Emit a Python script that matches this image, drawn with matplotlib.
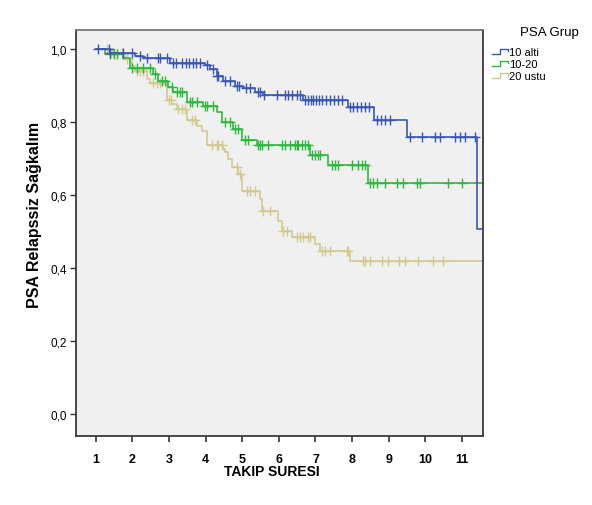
import matplotlib
matplotlib.use("Agg")
import matplotlib.pyplot as plt
import numpy as np
from matplotlib.lines import Line2D
from matplotlib.legend_handler import HandlerBase

plt.rcParams['font.family'] = ['Liberation Sans', 'DejaVu Sans']

# step curves: time of each drop and survival after it (start is 1.0 at t=1)
blue_times = [1.40, 2.07, 2.30, 3.03, 3.99, 4.13, 4.31, 4.48, 4.81, 5.02, 5.35, 5.57, 6.66, 7.89, 8.60, 9.51, 11.41]
blue_surv = [0.990, 0.980, 0.975, 0.963, 0.955, 0.945, 0.926, 0.913, 0.899, 0.893, 0.882, 0.875, 0.861, 0.840, 0.806, 0.760, 0.507]
blue_cens = [1.06, 1.35, 1.40, 1.75, 1.99, 2.20, 2.40, 2.70, 2.75, 2.95, 3.10, 3.20, 3.36, 3.45, 3.55, 3.65,
             3.75, 3.85, 4.05, 4.20, 4.31, 4.35, 4.53, 4.67, 4.86, 4.92, 5.10, 5.20, 5.43, 5.48, 5.60, 5.95,
             6.17, 6.25, 6.36, 6.50, 6.58, 6.72, 6.80, 6.88, 6.94, 7.02, 7.10, 7.18, 7.29, 7.40, 7.51, 7.62,
             7.73, 7.95, 8.03, 8.14, 8.25, 8.36, 8.47, 8.69, 8.80, 8.90, 9.04, 9.59, 9.91, 10.27, 10.41,
             10.82, 10.95, 11.09, 11.36]

green_times = [1.25, 1.75, 1.94, 2.57, 2.70, 2.98, 3.11, 3.49, 3.93, 4.31, 4.45, 4.75, 5.00, 5.41, 6.86, 7.35, 8.44]
green_surv = [0.986, 0.975, 0.947, 0.932, 0.913, 0.895, 0.881, 0.855, 0.845, 0.827, 0.800, 0.781, 0.752, 0.737, 0.710, 0.681, 0.632]
green_cens = [1.39, 1.50, 1.58, 1.99, 2.13, 2.29, 2.48, 2.62, 2.80, 2.90, 3.09, 3.22, 3.30, 3.36, 3.58, 3.63,
              3.77, 3.99, 4.04, 4.21, 4.53, 4.67, 4.81, 4.89, 5.08, 5.15, 5.43, 5.49, 5.54, 5.71, 6.09, 6.17,
              6.31, 6.45, 6.50, 6.53, 6.64, 6.72, 6.80, 6.91, 6.99, 7.07, 7.13, 7.46, 7.54, 7.62, 8.00, 8.17,
              8.28, 8.36, 8.49, 8.58, 8.69, 8.90, 9.23, 9.40, 9.78, 9.86, 10.63, 11.01]

tan_times = [1.48, 1.80, 1.99, 2.07, 2.40, 2.48, 2.95, 3.08, 3.22, 3.49, 3.77, 3.90, 4.04, 4.48, 4.53, 4.61,
             4.72, 4.89, 5.00, 5.49, 5.54, 5.98, 6.09, 6.36, 6.99, 7.13, 7.95]
tan_surv = [0.990, 0.973, 0.953, 0.940, 0.918, 0.907, 0.861, 0.849, 0.836, 0.806, 0.789, 0.775, 0.738, 0.726,
            0.718, 0.699, 0.677, 0.658, 0.610, 0.589, 0.555, 0.529, 0.501, 0.485, 0.466, 0.447, 0.420]
tan_cens = [1.31, 1.48, 1.58, 1.72, 1.86, 2.13, 2.21, 2.29, 2.57, 2.68, 2.76, 3.00, 3.05, 3.25, 3.36, 3.44,
            3.63, 3.71, 4.18, 4.31, 4.35, 4.45, 4.86, 4.95, 5.13, 5.22, 5.35, 5.57, 5.76, 6.12, 6.23, 6.50,
            6.58, 6.66, 6.80, 6.86, 7.18, 7.27, 7.40, 7.87, 7.90, 8.31, 8.36, 8.50, 8.83, 8.99, 9.29, 9.46,
            9.81, 10.22, 10.49]

groups = ['10 alti', '10-20', '20 ustu']
colors = ['#3a57b5', '#2db83d', '#d3c98f']
x_ticks = list(range(1, 12))
y_ticks = [0.0, 0.2, 0.4, 0.6, 0.8, 1.0]


class StepHandler(HandlerBase):
    # small step shaped legend icon like the SPSS one
    def create_artists(self, legend, orig_handle, xdescent, ydescent, width, height, fontsize, trans):
        x0 = -xdescent
        y0 = -ydescent
        xs = [x0, x0 + width * 0.5, x0 + width * 0.5, x0 + width, x0 + width]
        ys = [y0 + height * 0.15, y0 + height * 0.15, y0 + height * 0.8, y0 + height * 0.8, y0 + height * 0.5]
        ln = Line2D(xs, ys, color=orig_handle.get_color(), lw=1)
        ln.set_transform(trans)
        return [ln]


fig = plt.figure(figsize=(5.92, 5.06), dpi=100)
ax = fig.add_axes([0.1279, 0.137, 0.6875, 0.8017])
ax.set_facecolor('#f0f0f0')

handles = []
data = [(blue_times, blue_surv, blue_cens), (green_times, green_surv, green_cens), (tan_times, tan_surv, tan_cens)]
for i, (t, s, c) in enumerate(data):
    tt = np.array([1.0] + t + [12.0])
    ss = np.array([1.0] + s + [s[-1]])
    ax.step(tt, ss, where='post', color=colors[i], lw=1.2, zorder=3 - i)
    idx = np.searchsorted(tt, c, side='right') - 1
    ax.plot(c, ss[idx], '+', color=colors[i], ms=6.5, mew=1, zorder=3 - i)
    handles.append(Line2D([], [], color=colors[i], label=groups[i]))

ax.set_xlim(0.45, 11.57)
ax.set_ylim(-0.059, 1.052)
ax.set_xticks(x_ticks)
ax.set_yticks(y_ticks)
ax.set_yticklabels(['{:.1f}'.format(v).replace('.', ',') for v in y_ticks], fontsize=8.5)
ax.set_xticklabels([str(v) for v in x_ticks], fontsize=9, fontweight='bold')
ax.tick_params(axis='x', length=4.5, width=1.2, pad=8, color='#333333')
ax.tick_params(axis='y', length=4.5, width=1, pad=2, color='#333333')
for sp in ax.spines.values():
    sp.set_color('#3a3a3a')
    sp.set_linewidth(1.3)
ax.spines['top'].set_color('#777777')

ax.set_xlabel('TAKIP SURESI', fontsize=10, fontweight='bold')
ax.xaxis.set_label_coords(0.482, -0.07)
ax.set_ylabel('PSA Relapssiz Sağkalım', fontsize=11.5, fontweight='bold')
ax.yaxis.set_label_coords(-0.083, 0.546)

fig.legend(handles=handles, loc='upper left', bbox_to_anchor=(482 / 592, 1 - 38 / 506), frameon=False,
           fontsize=8, handlelength=1.4, handletextpad=0.1, labelspacing=0.2,
           handler_map={Line2D: StepHandler()})
fig.text(549 / 592, 1 - 33 / 506, 'PSA Grup', fontsize=9.5, ha='center', va='center')

fig.savefig('out.png', dpi=100)
